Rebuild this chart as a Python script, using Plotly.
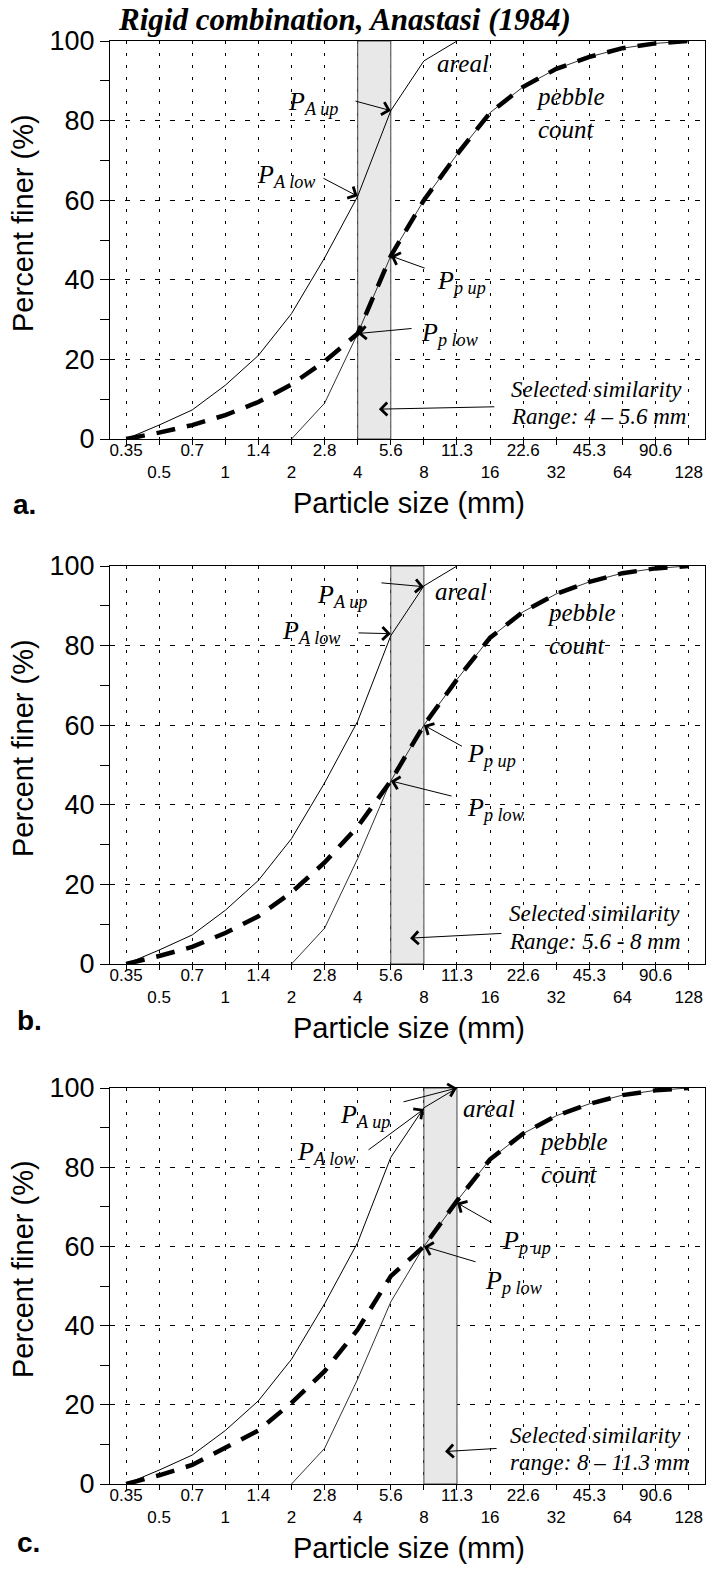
import math
import plotly.graph_objects as go

# ---------------- data ----------------
sizes = [0.354, 0.5, 0.707, 1, 1.414, 2, 2.828, 4, 5.657, 8, 11.31, 16,
         22.63, 32, 45.25, 64, 90.51, 128]
tick_labels = ["0.35", "0.5", "0.7", "1", "1.4", "2", "2.8", "4", "5.6", "8",
               "11.3", "16", "22.6", "32", "45.3", "64", "90.6", "128"]

areal_sizes = sizes[:11]
areal_pct = [0, 3.5, 7.3, 13.5, 21, 31.5, 45.5, 61, 82.5, 95, 100]

pebble_sizes = sizes[5:]
pebble_pct = [0, 9, 26.5, 46, 60, 71.5, 82, 88.5, 93, 96, 98.2, 99.4, 100]

combined_a = [0, 1.6, 3.5, 6, 9.3, 13.7, 19.5, 26.5, 46, 60, 71.5, 82, 88.5, 93, 96, 98.2, 99.4, 100]
combined_b = [0, 2, 4.3, 7.8, 12, 18, 25.5, 34.5, 46, 60, 71.5, 82, 88.5, 93, 96, 98.2, 99.4, 100]
combined_c = [0, 2.2, 4.8, 9, 13.5, 20.5, 28.5, 39, 52.5, 60, 71.5, 82, 88.5, 93, 96, 98.2, 99.4, 100]
combined = [combined_a, combined_b, combined_c]

sim_ranges = [(4, 5.657), (5.657, 8), (8, 11.31)]
range_texts = ["Range: 4 \u2013 5.6 mm", "Range: 5.6 - 8 mm", "range: 8 \u2013 11.3 mm"]
panel_letters = ["a.", "b.", "c."]
y_ticks = [0, 20, 40, 60, 80, 100]
y_minor = [10, 30, 50, 70, 90]

# ---------------- layout geometry ----------------
W, H = 707, 1569
tops = [41, 566, 1088]
bottoms = [439, 964, 1484]
x_dom = [110 / W, 705 / W]
x_range = [-0.5243, 2.1813]

SANS = "Liberation Sans, Arial, sans-serif"
SERIF = "Liberation Serif, Times New Roman, serif"

fig = go.Figure()

def lg(v):
    return math.log10(v)

# per-panel label texts: (text, x_mm, y, xanchor, size)
labels = [
    [("P<sub>A up</sub>", 3.33, 84.5, "right", 26),
     ("P<sub>A low</sub>", 2.64, 66, "right", 26),
     ("areal", 9.0, 94.3, "left", 25),
     ("pebble<br>count", 25.3, 82, "left", 25),
     ("P<sub>p up</sub>", 8.99, 39.5, "left", 26),
     ("P<sub>p low</sub>", 7.6, 26.5, "left", 26),
     ("Selected similarity", 19.5, 12.5, "left", 23),
     (range_texts[0], 19.5, 5.6, "left", 23)],
    [("P<sub>A up</sub>", 2.56, 92.5, "left", 26),
     ("P<sub>A low</sub>", 1.77, 83.5, "left", 26),
     ("areal", 8.8, 93.7, "left", 25),
     ("pebble<br>count", 28.4, 84.2, "left", 25),
     ("P<sub>p up</sub>", 12.3, 52.5, "left", 26),
     ("P<sub>p low</sub>", 12.3, 39, "left", 26),
     ("Selected similarity", 19.1, 12.8, "left", 23),
     (range_texts[1], 19.1, 5.6, "left", 23)],
    [("P<sub>A up</sub>", 3.25, 93, "left", 26),
     ("P<sub>A low</sub>", 2.07, 83.5, "left", 26),
     ("areal", 11.8, 94.7, "left", 25),
     ("pebble<br>count", 26.1, 82.4, "left", 25),
     ("P<sub>p up</sub>", 17.75, 61, "left", 26),
     ("P<sub>p low</sub>", 14.86, 51, "left", 26),
     ("Selected similarity", 19.3, 12.2, "left", 23),
     (range_texts[2], 19.3, 5.4, "left", 23)],
]
# arrows: (tail_mm, tail_y, tip_mm, tip_y)
arrows = [
    [(3.85, 85, 5.657, 82.5), (2.75, 65.7, 4, 61), (8.19, 42.8, 5.657, 46),
     (7.14, 27.8, 4, 26.5), (17.0, 8.1, 4.99, 7.5)],
    [(5.05, 95.8, 8, 94.8), (3.97, 83.2, 5.657, 83), (12.1, 54.5, 8, 60),
     (10.85, 42.1, 5.657, 46), (18.3, 7.7, 6.92, 6.5)],
    [(6.36, 96.4, 11.31, 100), (4.41, 84.1, 8, 94.7), (16.5, 65.8, 11.31, 71),
     (13.95, 56, 8, 60), (17.4, 9, 9.98, 8.2)],
]

annotations = []
for i in range(3):
    xa = "x" if i == 0 else f"x{i+1}"
    ya = "y" if i == 0 else f"y{i+1}"
    lo, hi = sim_ranges[i]
    # selected similarity band
    fig.add_trace(go.Scatter(x=[lo, lo, hi, hi, lo], y=[0, 100, 100, 0, 0],
                             fill="toself", fillcolor="#e8e8e8", mode="lines",
                             line=dict(color="#444444", width=1),
                             xaxis=xa, yaxis=ya, hoverinfo="skip", showlegend=False))
    fig.add_trace(go.Scatter(x=areal_sizes, y=areal_pct, mode="lines",
                             line=dict(color="black", width=1),
                             xaxis=xa, yaxis=ya, name="areal", showlegend=False))
    fig.add_trace(go.Scatter(x=pebble_sizes, y=pebble_pct, mode="lines",
                             line=dict(color="#333333", width=1),
                             xaxis=xa, yaxis=ya, name="pebble count", showlegend=False))
    fig.add_trace(go.Scatter(x=sizes, y=combined[i], mode="lines",
                             line=dict(color="black", width=4.5, dash="19px,12px"),
                             xaxis=xa, yaxis=ya, name="combined", showlegend=False))

    ydom = [1 - bottoms[i] / H, 1 - tops[i] / H]
    ticktext = [t if k % 2 == 0 else "<br>" + t for k, t in enumerate(tick_labels)]
    fig.layout[("xaxis" if i == 0 else f"xaxis{i+1}")] = dict(
        type="log", domain=x_dom, range=x_range, anchor=ya,
        tickvals=sizes, ticktext=ticktext, tickangle=0, ticks="outside", ticklen=5,
        ticklabelstandoff=-10, ticklabeloverflow="allow",
        tickcolor="black", tickfont=dict(family=SANS, size=17, color="black"),
        showgrid=True, gridcolor="black", gridwidth=1, griddash="3px,9px",
        showline=True, linecolor="black", linewidth=1.3, mirror=True,
        zeroline=False, automargin=False, fixedrange=True)
    fig.layout[("yaxis" if i == 0 else f"yaxis{i+1}")] = dict(
        domain=ydom, range=[0, 100], anchor=xa,
        tickvals=y_ticks, ticktext=[str(v) for v in y_ticks],
        ticks="outside", ticklen=9, tickcolor="black",
        tickfont=dict(family=SANS, size=27, color="black"),
        minor=dict(tickvals=y_minor, ticks="outside", ticklen=9, tickcolor="black", showgrid=False),
        showgrid=True, gridcolor="black", gridwidth=1, griddash="5px,10px",
        showline=True, linecolor="black", linewidth=1.3, mirror=True,
        zeroline=False, automargin=False, fixedrange=True)

    for (txt, xm, yv, anc, sz) in labels[i]:
        annotations.append(dict(text=f"<i>{txt}</i>", x=lg(xm), y=yv, xref=xa, yref=ya,
                                xanchor=anc, yanchor="middle", align="left", showarrow=False,
                                font=dict(family=SERIF, size=sz, color="black")))
    for (tx, ty, px, py) in arrows[i]:
        annotations.append(dict(text="", x=lg(px), y=py, ax=lg(tx), ay=ty,
                                xref=xa, yref=ya, axref=xa, ayref=ya,
                                showarrow=True, arrowhead=4, arrowsize=2.5,
                                arrowwidth=1, arrowcolor="black", standoff=0))
    # axis titles and panel letters
    mid_y = (tops[i] + bottoms[i]) / 2 - 17
    annotations.append(dict(text="Percent finer (%)", x=23 / W, y=1 - mid_y / H,
                            xref="paper", yref="paper", textangle=-90, showarrow=False,
                            xanchor="center", yanchor="middle",
                            font=dict(family=SANS, size=29, color="black")))
    annotations.append(dict(text="Particle size (mm)", x=409 / W, y=1 - (bottoms[i] + 64) / H,
                            xref="paper", yref="paper", showarrow=False,
                            xanchor="center", yanchor="middle",
                            font=dict(family=SANS, size=29, color="black")))
    let_y = [504, 1020, 1542][i]
    let_x = [11, 15, 15][i]
    annotations.append(dict(text=f"<b>{panel_letters[i]}</b>", x=let_x / W, y=1 - let_y / H,
                            xref="paper", yref="paper", showarrow=False,
                            xanchor="left", yanchor="middle",
                            font=dict(family=SANS, size=28, color="black")))

annotations.append(dict(text="<b><i>Rigid combination, Anastasi (1984)</i></b>",
                        x=344 / W, y=1 - 19 / H, xref="paper", yref="paper",
                        showarrow=False, xanchor="center", yanchor="middle",
                        font=dict(family=SERIF, size=31, color="black")))

fig.update_layout(width=W, height=H, margin=dict(l=0, r=0, t=0, b=0),
                  paper_bgcolor="white", plot_bgcolor="white",
                  showlegend=False, annotations=annotations)

fig.write_html("out.html", config={"displayModeBar": False},
               post_script="document.body.style.margin='0px';document.body.style.overflow='hidden';")
